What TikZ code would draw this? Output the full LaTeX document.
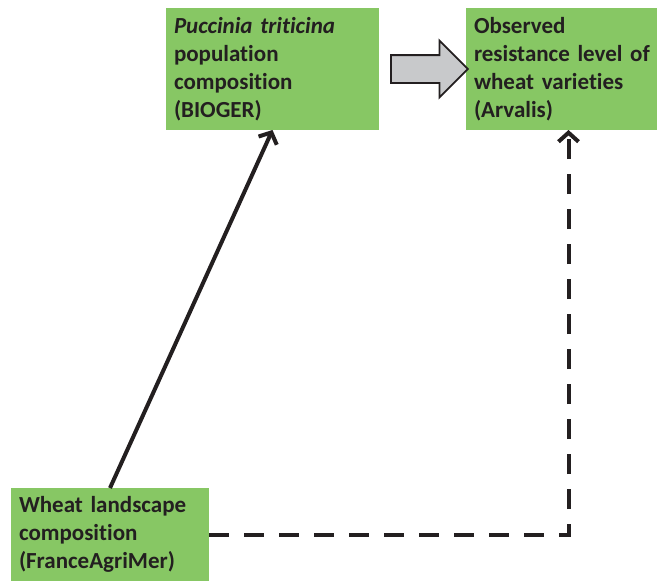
\documentclass[tikz,border=0pt]{standalone}
\usepackage{fontspec}
\setmainfont{Carlito}[Ligatures=CommonOff]
\usetikzlibrary{arrows.meta,positioning,shapes.arrows,calc}

\definecolor{boxgreen}{RGB}{135,199,100}
\definecolor{arrowgray}{RGB}{200,201,203}
\definecolor{inkdark}{RGB}{35,31,32}

\begin{document}
\begin{tikzpicture}[
    x=1pt, y=-1pt,
    font=\fontsize{23}{28}\selectfont\bfseries,
    line width=4pt,
    draw=inkdark,
    node distance=87pt and 87pt,
    databox/.style={fill=boxgreen, text=inkdark, inner xsep=8pt, inner ysep=0pt, outer sep=0pt, align=left, anchor=center},
    flowarrow/.style={draw=inkdark, -{Straight Barb[length=9pt, width=20pt]}},
    bigarrow/.style={single arrow, draw=inkdark, line width=1.8pt, fill=arrowgray, inner xsep=0pt, inner ysep=13pt, outer sep=0pt, minimum height=77pt, single arrow head extend=14.5pt, single arrow tip angle=90}
]
\useasboundingbox (0,0) rectangle (660,581);

\node[databox, text width=197pt, minimum height=122pt] (puccinia) at (272.5,69) {\textit{Puccinia triticina}\\population\\composition\\(BIOGER)};
\node[databox, text width=175pt, minimum height=122pt, right=87pt of puccinia] (resist) {Observed\\resistance~level~of\\wheat varieties\\(Arvalis)};
\node[databox, text width=182pt, minimum height=93pt] (landscape) at (110,534.5) {Wheat landscape\\composition\\(FranceAgriMer)};

\node[bigarrow] (transfer) at ($(puccinia.east)!0.5!(resist.west)$) {};

\coordinate (entry) at ([xshift=7pt]resist.south);

\draw[flowarrow] (landscape.north) -- (puccinia.south);
\draw[flowarrow, dash pattern=on 20pt off 15pt] (landscape.east) -| (entry);
\end{tikzpicture}
\end{document}
